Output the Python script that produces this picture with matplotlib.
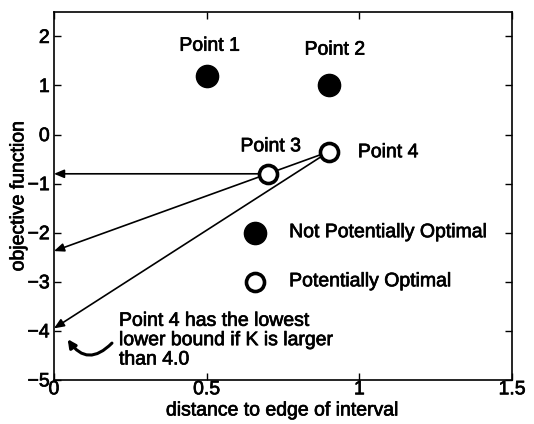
import matplotlib
matplotlib.use("Agg")
import matplotlib.pyplot as plt
import matplotlib.patheffects as pe
from matplotlib.patches import FancyArrowPatch

plt.rcParams['font.family'] = ['Liberation Sans', 'DejaVu Sans']
plt.rcParams['font.size'] = 14
thick = [pe.withStroke(linewidth=0.5, foreground='black')]

# Interval centers: (distance to edge, objective value)
not_opt_x = [0.5, 0.9]
not_opt_y = [1.2, 1.0]
not_opt_names = ["Point 1", "Point 2"]
opt_x = [0.7, 0.9]
opt_y = [-0.8, -0.35]
opt_names = ["Point 3", "Point 4"]

# Lower-bound intercepts at distance 0
bound_ends = [-0.8, -2.375, -3.95]
bound_starts = [(0.7, -0.8), (0.9, -0.35), (0.9, -0.35)]

fig = plt.figure(figsize=(5.34, 4.24), dpi=100)
ax = fig.add_axes([0.101, 0.104, 0.858, 0.868])
ax.set_xlim(0, 1.5)
ax.set_ylim(-5, 2.5)
ax.set_xticks([0, 0.5, 1, 1.5])
ax.set_xticklabels(["0", "0.5", "1", "1.5"])
ax.set_yticks([-5, -4, -3, -2, -1, 0, 1, 2])
ax.set_yticklabels(["\u22125", "\u22124", "\u22123", "\u22122", "\u22121", "0", "1", "2"])
ax.tick_params(direction='in', top=True, right=True, labelsize=14, length=5, width=1)
ax.tick_params(axis='x', pad=1)
ax.tick_params(axis='y', pad=3)
for lbl in ax.get_xticklabels() + ax.get_yticklabels():
    lbl.set_path_effects(thick)
for s in ax.spines.values():
    s.set_linewidth(1.2)

# lower-bound lines with arrows
for (sx, sy), ey in zip(bound_starts, bound_ends):
    ax.add_patch(FancyArrowPatch((sx, sy), (0, ey), arrowstyle='-|>,head_length=0.6,head_width=0.25',
                                 mutation_scale=10, lw=1.2, color='black',
                                 shrinkA=0, shrinkB=0, zorder=2))

ax.plot(not_opt_x, not_opt_y, 'o', ms=16, color='black', zorder=3)
ax.plot(opt_x, opt_y, 'o', ms=13, mfc='white', mec='black', mew=2.6, zorder=3)

label_pos = {"Point 1": (0.51, 1.8, 'center'), "Point 2": (0.92, 1.72, 'center'),
             "Point 3": (0.71, -0.25, 'center'), "Point 4": (0.995, -0.37, 'left')}
for name in not_opt_names + opt_names:
    x, y, ha = label_pos[name]
    ax.text(x, y, name, ha=ha, va='center', path_effects=thick)

# legend entries
ax.plot([0.658], [-2.0], 'o', ms=16, color='black')
ax.plot([0.658], [-3.0], 'o', ms=13, mfc='white', mec='black', mew=2.6)
ax.text(0.77, -2.0, "Not Potentially Optimal", va='center', path_effects=thick)
ax.text(0.77, -3.0, "Potentially Optimal", va='center', path_effects=thick)

ax.text(0.213, -4.2, "Point 4 has the lowest\nlower bound if K is larger\nthan 4.0",
        va='center', ha='left', linespacing=1.18, path_effects=thick)
ax.add_patch(FancyArrowPatch((0.19, -4.25), (0.045, -4.17), arrowstyle='-|>',
                             mutation_scale=12, lw=2.2, color='black',
                             connectionstyle='arc3,rad=-0.6', shrinkA=0, shrinkB=0))

ax.set_xlabel("distance to edge of interval", labelpad=3, path_effects=thick)
ax.set_ylabel("objective function", labelpad=0, path_effects=thick)

fig.savefig("out.png", dpi=100)
